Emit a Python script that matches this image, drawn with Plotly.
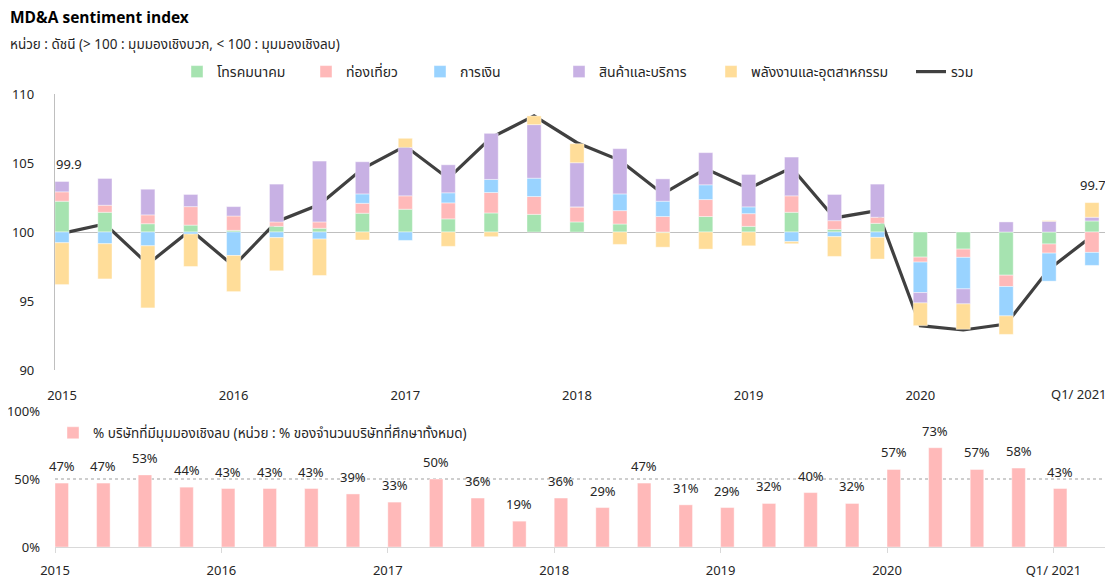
import plotly.graph_objects as go

quarters = [f"Q{q}/{y}" for y in range(2015, 2021) for q in range(1, 5)] + ["Q1/2021"]
tick_cats = ["Q1/2015", "Q1/2016", "Q1/2017", "Q1/2018", "Q1/2019", "Q1/2020", "Q1/2021"]
tick_text = ["2015", "2016", "2017", "2018", "2019", "2020", "Q1/ 2021"]

# contributions to index (deviation from 100)
telecom = [2.23, 1.43, 0.60, 0.50, 0.12, 0.41, 0.27, 1.36, 1.65, 0.95, 1.38, 1.28, 0.73,
           0.58, -0.05, 1.12, 0.41, 1.43, 0.19, 0.63, -1.82, -1.24, -3.13, -0.87, 0.80]
tourism = [0.68, 0.51, 0.64, 1.34, 1.04, 0.32, 0.46, 0.72, 0.97, 1.16, 1.48, 1.29, 1.09,
           0.97, 1.12, 1.23, 0.92, 1.19, 0.63, 0.44, -0.36, -0.60, -0.82, -0.66, -1.48]
finance = [-0.78, -0.85, -1.00, -0.15, -1.70, -0.41, -0.51, 0.68, -0.61, 0.73, 0.95, 1.33, 0.0,
           1.21, 1.11, 1.07, 0.49, -0.70, -0.34, -0.39, -2.21, -2.28, -2.13, -2.03, -0.94]
goods = [0.75, 1.94, 1.86, 0.88, 0.68, 2.74, 4.41, 2.33, 3.51, 2.03, 3.34, 3.88, 3.20,
         3.28, 1.62, 2.33, 2.35, 2.81, 1.90, 2.40, -0.75, -1.09, 0.73, 0.78, 0.27]
energy = [-3.03, -2.55, -4.50, -2.35, -2.62, -2.40, -2.64, -0.58, 0.66, -1.04, -0.34, 0.63, 1.38,
          -0.90, -1.05, -1.24, -1.00, -0.15, -1.43, -1.57, -1.65, -1.84, -1.34, 0.05, 1.06]
total = [99.9, 100.58, 97.67, 100.15, 97.53, 100.75, 101.99, 104.58, 106.23, 103.88, 106.84,
         108.41, 106.47, 105.19, 102.76, 104.58, 103.15, 104.65, 101.02, 101.55, 93.21, 92.90,
         93.33, 97.31, 99.7]
neg_pct = [47, 47, 53, 44, 43, 43, 43, 39, 33, 50, 36, 19, 36, 29, 47, 31, 29, 32, 40, 32,
           57, 73, 57, 58, 43]

series = [
    ("โทรคมนาคม", telecom, "#A6E3B0"),
    ("ท่องเที่ยว", tourism, "#FFB9B9"),
    ("การเงิน", finance, "#99D3FF"),
    ("สินค้าและบริการ", goods, "#C8B1E4"),
    ("พลังงานและอุตสาหกรรม", energy, "#FFDD99"),
]
total_name = "รวม"
pct_name = "% บริษัทที่มีมุมมองเชิงลบ (หน่วย : % ของจำนวนบริษัทที่ศึกษาทั้งหมด)"

FONT = "Tahoma, 'Noto Sans Thai', 'Liberation Sans', Arial, sans-serif"
TXT = "#262626"
# page body has an 8px margin; figure coordinates below are screen coordinates minus 8
W, H = 1105, 572

# legend x positions (figure px) for each top legend entry
legend_x = [169, 298, 412, 551, 703, 903]

fig = go.Figure()
for k, (name, vals, col) in enumerate(series):
    lg = "legend" if k == 0 else f"legend{k + 2}"
    fig.add_trace(go.Bar(
        x=quarters, y=vals, name=name, xaxis="x", yaxis="y3",
        marker=dict(color=col, line=dict(color="rgba(255,255,255,0.7)", width=0.6)),
        width=0.33, legend=lg,
    ))
fig.add_trace(go.Scatter(
    x=quarters, y=total, name=total_name, mode="lines", xaxis="x", yaxis="y",
    line=dict(color="#404040", width=3.2), legend="legend7",
))
fig.add_trace(go.Bar(
    x=quarters, y=neg_pct, name=pct_name,
    xaxis="x2", yaxis="y2", width=0.325, offset=0,
    marker=dict(color="#FFB9B9", line=dict(color="rgba(255,255,255,0.7)", width=0.6)),
    legend="legend2",
))

annotations = []
annotations.append(dict(x=quarters[0], y=total[0], xref="x", yref="y", text=f"{total[0]:.1f}",
                        showarrow=False, yshift=68, xshift=7, font=dict(size=13, color=TXT)))
annotations.append(dict(x=quarters[-1], y=total[-1], xref="x", yref="y", text=f"{total[-1]:.1f}",
                        showarrow=False, yshift=50, xshift=1, font=dict(size=13, color=TXT)))
for i, v in enumerate(neg_pct):
    annotations.append(dict(x=i + 0.1625, y=v, xref="x2", yref="y2", text=f"{v}%",
                            showarrow=False, yanchor="bottom", yshift=4,
                            font=dict(size=13, color=TXT)))
# last top-axis category label, pulled inside the plot edge as in the original
annotations.append(dict(x=tick_cats[-1], y=0, xref="x", yref="y domain", text=tick_text[-1],
                        showarrow=False, yanchor="middle", yshift=-25, xshift=-13,
                        font=dict(size=13, color=TXT)))
annotations.append(dict(x=0, y=1 - 10 / H, xref="paper", yref="paper", xanchor="left",
                        yanchor="middle", showarrow=False, text="<b>MD&A sentiment index</b>",
                        font=dict(size=15.5, color="#000000")))
annotations.append(dict(x=0, y=1 - 37 / H, xref="paper", yref="paper", xanchor="left",
                        yanchor="middle", showarrow=False,
                        text="หน่วย : ดัชนี (> 100 : มุมมองเชิงบวก, < 100 : มุมมองเชิงลบ)",
                        font=dict(size=13.5, color=TXT)))

xdom_top = [47 / W, 1102 / W]
xdom_bot = [47 / W, 1102 / W]
ydom_top = [1 - 362 / H, 1 - 86 / H]
ydom_bot = [1 - 539 / H, 1 - 403 / H]

def top_legend(xpx):
    return dict(orientation="h", x=xpx / W, y=1 - 64 / H, xanchor="left", yanchor="middle",
                font=dict(size=14, color=TXT), bgcolor="rgba(0,0,0,0)")

layout_legends = {}
legend_keys = ["legend", "legend3", "legend4", "legend5", "legend6", "legend7"]
for key, xpx in zip(legend_keys, legend_x):
    layout_legends[key] = top_legend(xpx)

fig.update_layout(
    width=W, height=H,
    margin=dict(l=0, r=0, t=0, b=0, autoexpand=False),
    paper_bgcolor="white", plot_bgcolor="white",
    font=dict(family=FONT, size=13, color=TXT),
    barmode="relative",
    xaxis=dict(domain=xdom_top, type="category", categoryorder="array", categoryarray=quarters,
               range=[-0.163, 24.42], tickvals=tick_cats[:-1], ticktext=tick_text[:-1],
               showline=False, ticks="", showgrid=False, zeroline=False, anchor="y",
               automargin=False, ticklabelstandoff=16, tickfont=dict(size=13, color=TXT)),
    yaxis=dict(domain=ydom_top, range=[90, 110], dtick=5, tick0=90, showgrid=False,
               zeroline=False, showline=True, linecolor="#BFBFBF", linewidth=1.3,
               automargin=False, ticks="", anchor="x", ticklabelstandoff=17,
               tickfont=dict(size=13, color=TXT)),
    yaxis3=dict(overlaying="y", range=[-10, 10], showticklabels=False, showgrid=False,
                zeroline=True, zerolinecolor="#BFBFBF", zerolinewidth=1.3, showline=False,
                automargin=False, ticks="", anchor="x"),
    xaxis2=dict(domain=xdom_bot, type="category", categoryorder="array", categoryarray=quarters,
                range=[0, 25.36], tickvals=tick_cats, ticktext=tick_text,
                showline=True, linecolor="#D9D9D9", linewidth=1.3, ticks="outside",
                ticklen=5, tickcolor="#D9D9D9", showgrid=False, zeroline=False, anchor="y2",
                automargin=False, ticklabelstandoff=6, tickfont=dict(size=13, color=TXT)),
    yaxis2=dict(domain=ydom_bot, range=[0, 100], tickvals=[0, 50, 100],
                ticktext=["0%", "50%", "100%"], showgrid=False, zeroline=False,
                showline=False, ticks="", anchor="x2", ticklabelstandoff=14,
                automargin=False, tickfont=dict(size=13, color=TXT)),
    legend2=dict(orientation="h", x=45 / W, y=1 - 425 / H, xanchor="left", yanchor="middle",
                 font=dict(size=13.5, color=TXT), bgcolor="rgba(0,0,0,0)"),
    annotations=annotations,
    shapes=[dict(type="line", xref="x2 domain", yref="y2", x0=0, x1=1, y0=50, y1=50,
                 line=dict(color="#BFBFBF", width=1.3, dash="dot"), layer="below")],
    showlegend=True,
    **layout_legends,
)

fig.write_html("out.html")
